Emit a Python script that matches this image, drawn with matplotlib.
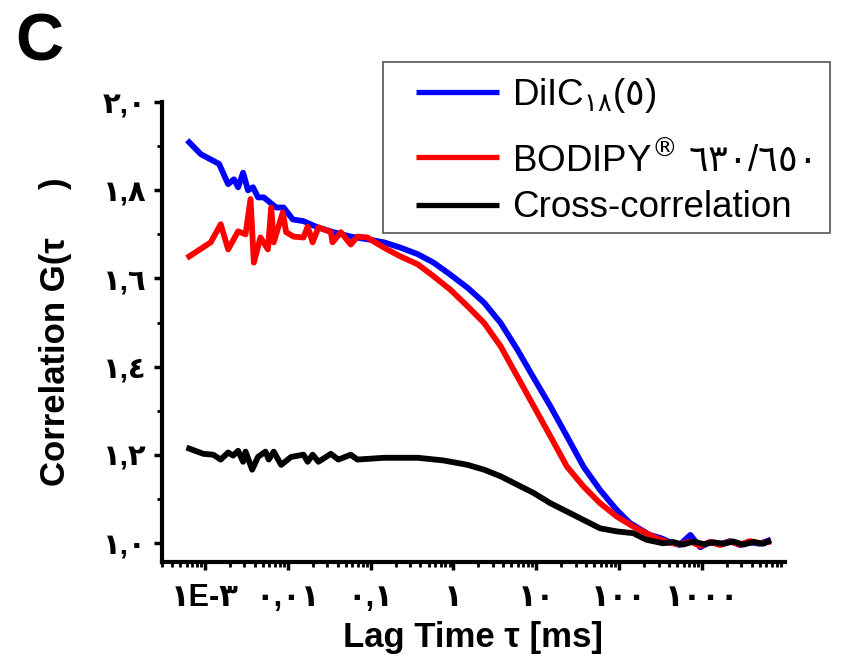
import numpy as np
import matplotlib
matplotlib.use("Agg")
import matplotlib.pyplot as plt
from matplotlib.ticker import FixedLocator, LogLocator, NullFormatter
from matplotlib.patches import Rectangle
from matplotlib.lines import Line2D

# Latin glyphs from Liberation Sans, Arabic-Indic digits from DejaVu Sans
plt.rcParams['font.family'] = ['Liberation Sans', 'DejaVu Sans']
plt.rcParams['mathtext.fontset'] = 'custom'
plt.rcParams['mathtext.rm'] = 'DejaVu Sans'
plt.rcParams['mathtext.it'] = 'DejaVu Sans'
plt.rcParams['mathtext.bf'] = 'DejaVu Sans:bold'
plt.rcParams['mathtext.fallback'] = 'stixsans'

# lag times stored as log10(tau / ms)
blue_logt = [-3.19, -3.05, -2.83, -2.72, -2.65, -2.60, -2.54, -2.48, -2.42, -2.36,
             -2.29, -2.14, -2.05, -1.94, -1.81, -1.64, -1.45, -1.24, -1.04, -0.84,
             -0.64, -0.43, -0.24, -0.04, 0.17, 0.37, 0.57, 0.77, 0.97, 1.17,
             1.37, 1.57, 1.77, 1.97, 2.13, 2.37, 2.50, 2.61, 2.73, 2.86,
             2.98, 3.10, 3.22, 3.34, 3.46, 3.58, 3.70, 3.80]
blue_g = [1.909, 1.882, 1.860, 1.814, 1.825, 1.807, 1.840, 1.800, 1.807, 1.784,
          1.784, 1.761, 1.761, 1.734, 1.730, 1.716, 1.705, 1.695, 1.689, 1.682,
          1.670, 1.655, 1.636, 1.609, 1.579, 1.545, 1.499, 1.439, 1.374, 1.310,
          1.242, 1.173, 1.120, 1.075, 1.045, 1.018, 1.011, 1.002, 0.995, 1.018,
          0.990, 1.002, 0.997, 1.004, 0.995, 1.001, 0.998, 1.005]

red_logt = [-3.19, -2.93, -2.81, -2.72, -2.60, -2.51, -2.45, -2.41, -2.33, -2.24,
            -2.20, -2.17, -2.06, -2.02, -1.93, -1.81, -1.76, -1.70, -1.63, -1.48,
            -1.46, -1.36, -1.24, -1.16, -1.04, -0.84, -0.64, -0.43, -0.24, -0.04,
            0.17, 0.37, 0.57, 0.77, 0.97, 1.17, 1.37, 1.57, 1.77, 1.97,
            2.17, 2.37, 2.50, 2.61, 2.73, 2.86, 2.98, 3.10, 3.22, 3.34,
            3.46, 3.58, 3.70, 3.80]
red_g = [1.650, 1.682, 1.723, 1.666, 1.707, 1.700, 1.780, 1.636, 1.693, 1.666,
         1.761, 1.682, 1.750, 1.705, 1.695, 1.693, 1.718, 1.682, 1.716, 1.705,
         1.682, 1.705, 1.677, 1.695, 1.693, 1.670, 1.650, 1.632, 1.605, 1.575,
         1.537, 1.499, 1.446, 1.378, 1.310, 1.242, 1.173, 1.128, 1.090, 1.060,
         1.037, 1.018, 1.007, 1.000, 0.997, 1.003, 0.993, 1.002, 0.995, 1.003,
         0.996, 1.004, 0.999, 1.002]

black_logt = [-3.19, -3.02, -2.90, -2.81, -2.72, -2.66, -2.60, -2.54, -2.51, -2.43,
              -2.36, -2.27, -2.23, -2.17, -2.08, -1.96, -1.81, -1.76, -1.70, -1.63,
              -1.48, -1.39, -1.24, -1.16, -0.84, -0.43, -0.12, 0.17, 0.37, 0.57,
              0.77, 0.97, 1.17, 1.37, 1.57, 1.77, 1.97, 2.17, 2.33, 2.53,
              2.65, 2.77, 2.90, 3.02, 3.14, 3.26, 3.38, 3.50, 3.62, 3.74, 3.80]
black_g = [1.214, 1.202, 1.200, 1.189, 1.205, 1.198, 1.209, 1.184, 1.207, 1.166,
           1.195, 1.207, 1.189, 1.207, 1.177, 1.195, 1.200, 1.184, 1.200, 1.184,
           1.202, 1.189, 1.200, 1.189, 1.193, 1.193, 1.187, 1.177, 1.166, 1.151,
           1.132, 1.113, 1.090, 1.071, 1.052, 1.033, 1.026, 1.022, 1.007, 0.999,
           1.002, 0.996, 1.003, 0.997, 1.001, 0.998, 1.003, 0.996, 1.002, 0.998, 1.003]

# Arabic digits wrapped in math so they come from DejaVu Sans
labels = ["DiIC$_{١٨}$($٥$)", "BODIPY$^{®}$ $٦٣٠$/$٦٥٠$", "Cross-correlation"]
colors = ["#0000ff", "#ff0000", "#000000"]

xtick_vals = [1e-3, 1e-2, 1e-1, 1, 10, 100, 1000]
xtick_labels = ["١E-٣", "٠,٠١", "٠,١", "١", "١٠", "١٠٠", "١٠٠٠"]
ytick_vals = [1.0, 1.2, 1.4, 1.6, 1.8, 2.0]
ytick_labels = ["١,٠", "١,٢", "١,٤", "١,٦", "١,٨", "٢,٠"]

W, H = 842, 668
fig = plt.figure(figsize=(W / 100, H / 100), dpi=100)
ax = fig.add_axes([0.192, 0.159, 0.740, 0.688])


def px(x, y):
    # pixel position (from the top-left) -> figure fraction
    return x / W, 1 - y / H


series = [(blue_logt, blue_g), (red_logt, red_g), (black_logt, black_g)]
for (lt, g), lab, c in zip(series, labels, colors):
    ax.plot(10 ** np.array(lt), g, color=c, lw=4.2, label=lab)

ax.set_xscale("log")
ax.set_xlim(3.0e-4, 1.0e4)
ax.set_ylim(0.957, 2.0)

for s in ["top", "right"]:
    ax.spines[s].set_visible(False)
for s in ["left", "bottom"]:
    ax.spines[s].set_linewidth(3)

ax.set_xticks(xtick_vals, xtick_labels, fontsize=22, fontweight="bold")
ax.xaxis.set_minor_locator(LogLocator(base=10, subs=np.arange(2, 10), numticks=20))
ax.xaxis.set_minor_formatter(NullFormatter())
ax.set_yticks(ytick_vals, ytick_labels, fontsize=21, fontweight="bold")
ax.yaxis.set_minor_locator(FixedLocator([1.1, 1.3, 1.5, 1.7, 1.9]))

ax.tick_params(which="major", direction="out", length=6, width=2.5, pad=5)
ax.tick_params(which="minor", direction="out", length=3.5, width=2)
ax.tick_params(axis="x", which="major", pad=9)

ax.set_xlabel("Lag Time τ [ms]", fontsize=25, fontweight="bold", labelpad=6)
ax.set_ylabel("Correlation G(τ     )", fontsize=25, fontweight="bold", labelpad=22)

# legend box drawn by hand so each row sits where it does in the original
handle_y = [92, 157, 205]
text_base = [105, 172, 217]
for lab, c, hy, ty in zip(labels, colors, handle_y, text_base):
    (x0, y0), (x1, _) = px(416, hy), px(499, hy)
    fig.add_artist(Line2D([x0, x1], [y0, y0], transform=fig.transFigure,
                          color=c, lw=3.8, solid_capstyle="butt"))
    tx, tyf = px(512, ty)
    fig.text(tx, tyf, lab, fontsize=26.5, ha="left", va="baseline")
bx, by = px(383, 233)
fig.patches.append(Rectangle((bx, by), 447 / W, 171 / H, transform=fig.transFigure,
                             fill=False, edgecolor="#555555", lw=1.2))

fig.text(0.018, 0.982, "C", fontsize=48, fontweight="bold", va="top", ha="left")

fig.savefig("out.png", dpi=100)
